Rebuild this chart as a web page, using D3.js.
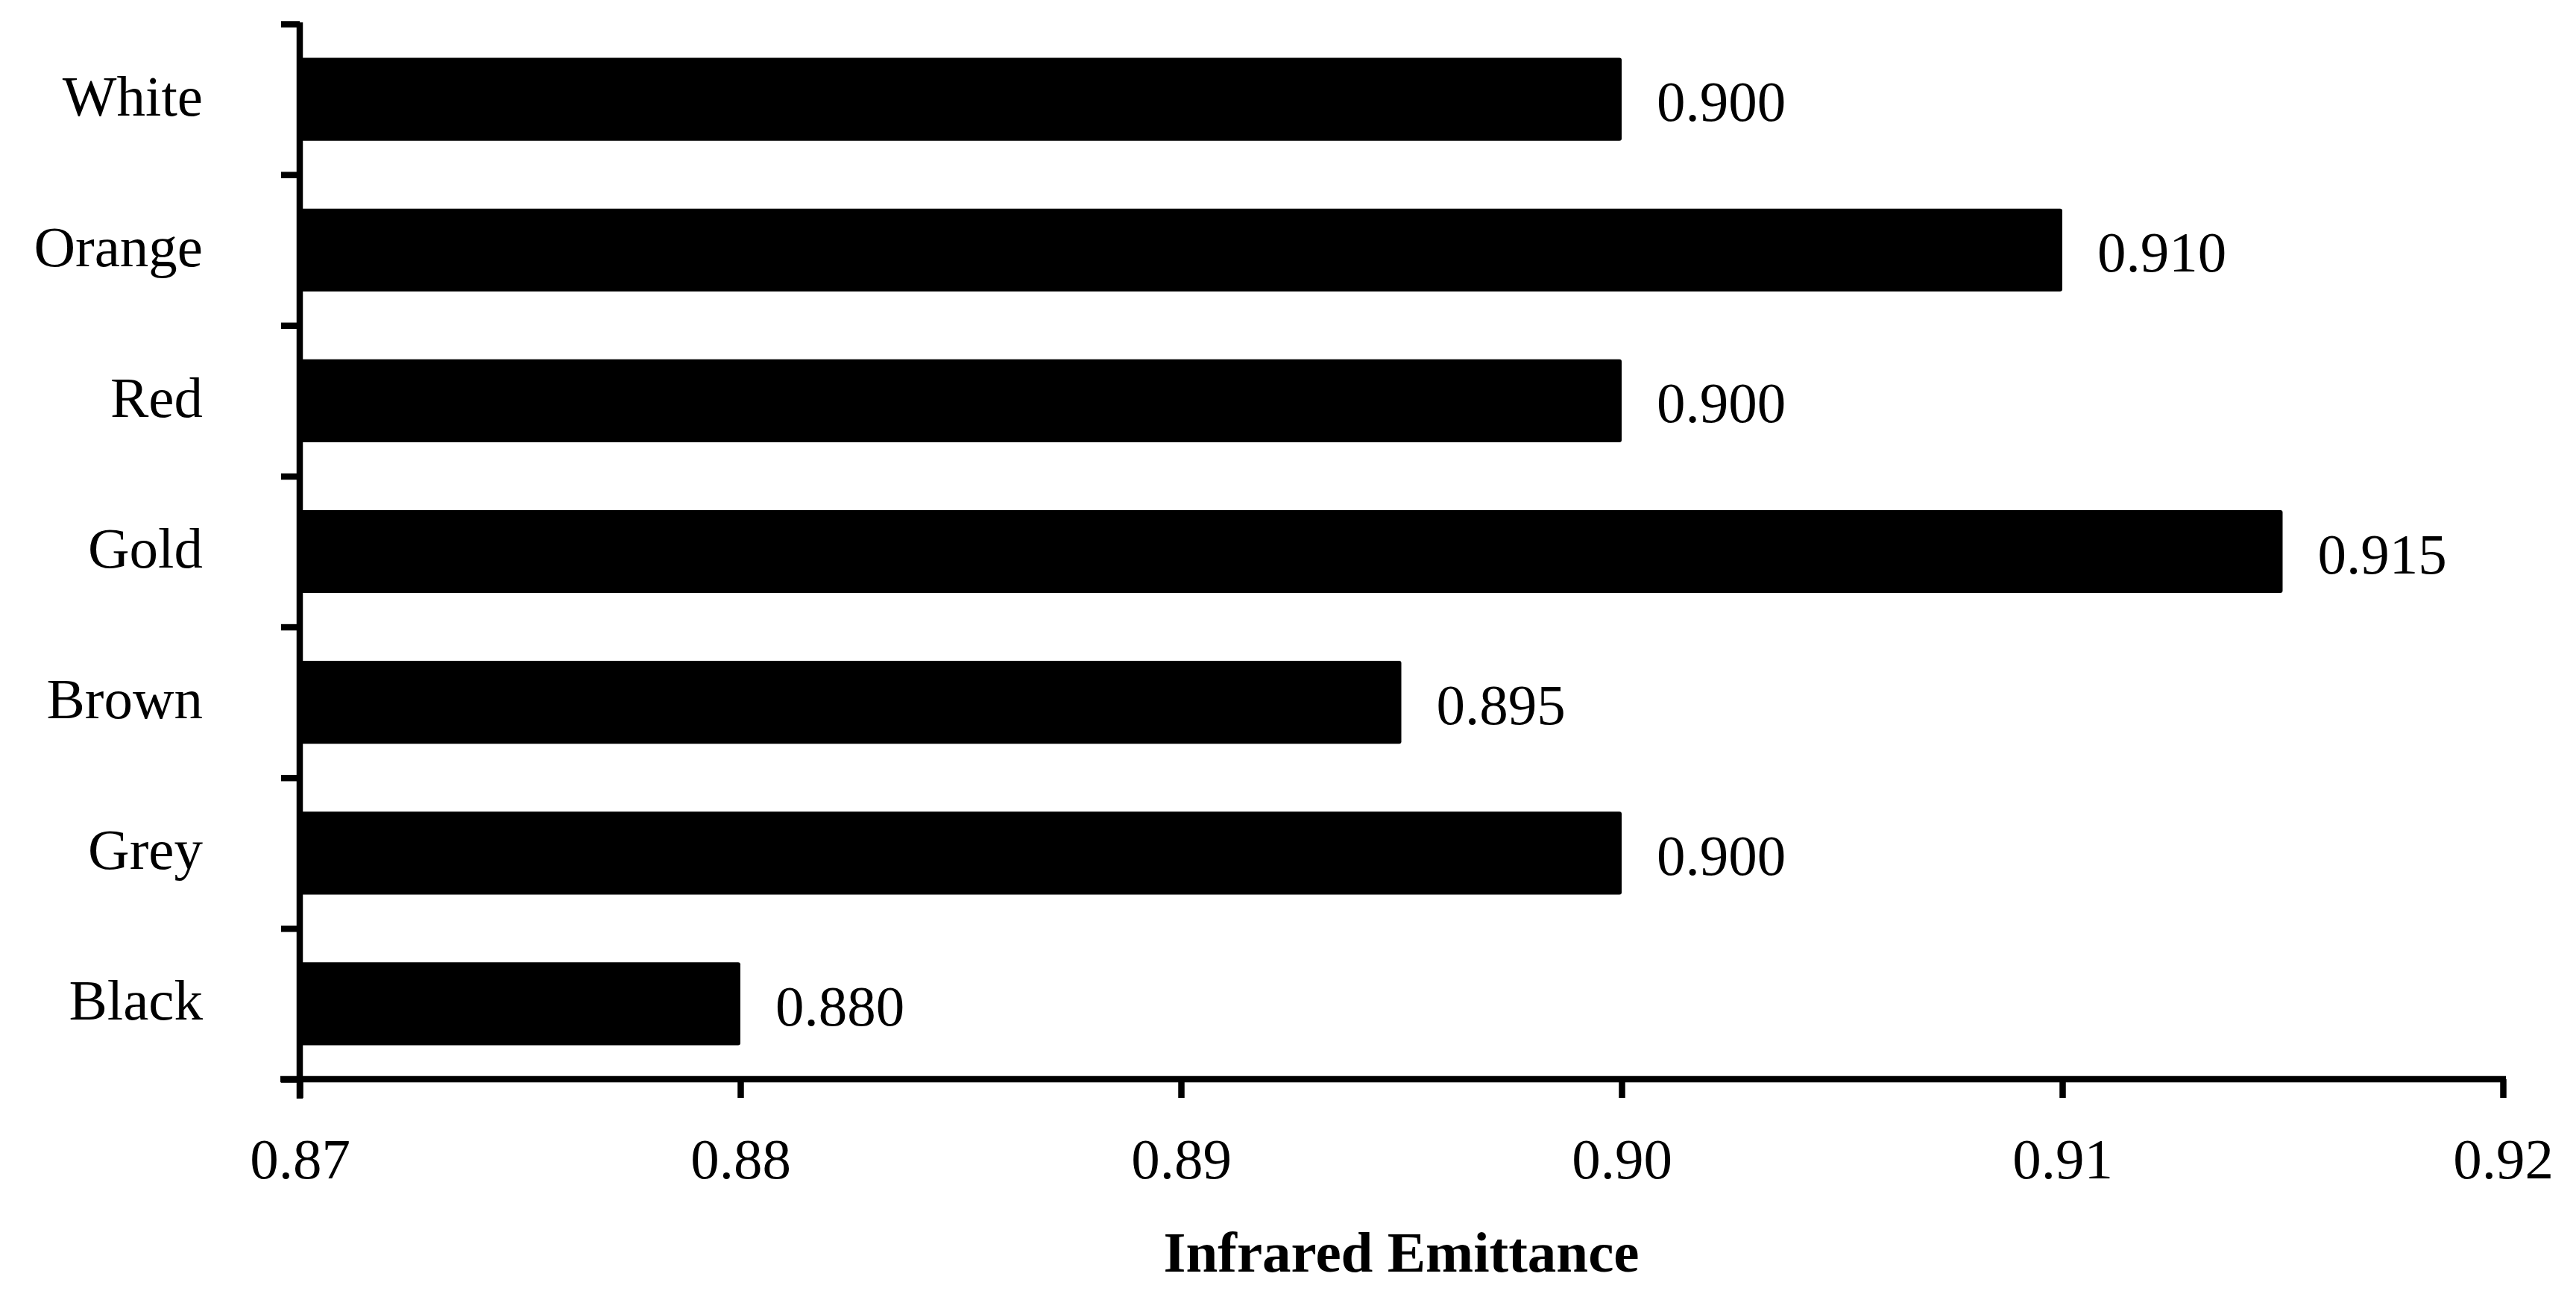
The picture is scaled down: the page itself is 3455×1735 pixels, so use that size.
<!DOCTYPE html>
<html>
<head>
<meta charset="utf-8">
<script src="https://cdn.jsdelivr.net/npm/d3@7"></script>
<style>
    body { margin: 0; background: #fff; }
    text { font-family: "Liberation Serif", "Times New Roman", serif; }
</style>
</head>
<body>
<svg></svg>
<script>
//data
var colours = ["White", "Orange", "Red", "Gold", "Brown", "Grey", "Black"]
var emittance = [0.900, 0.910, 0.900, 0.915, 0.895, 0.900, 0.880]
var xTicks = [0.87, 0.88, 0.89, 0.90, 0.91, 0.92]
var xTitle = "Infrared Emittance"

var screen = {width: 3455, height: 1735}
var margins = {top: 32, right: 98, bottom: 288, left: 402}
var fontSize = 77

var drawChart = function()
{
    var svg = d3.select("svg")
        .attr("width", screen.width)
        .attr("height", screen.height)

    var width = screen.width - margins.left - margins.right
    var height = screen.height - margins.top - margins.bottom

    var xScale = d3.scaleLinear()
                    .domain([0.87, 0.92])
                    .range([0, width])

    var yScale = d3.scaleBand()
                    .domain(colours)
                    .range([0, height])
                    .paddingInner(0.45)
                    .paddingOuter(0.225)

    //ticks sit between the categories, so use a plain index scale for them
    var yEdges = d3.scaleLinear()
                    .domain([0, colours.length])
                    .range([0, height])

    var graph = svg.append("g")
        .attr("id", "graph")
        .attr("transform", "translate(" + margins.left + "," + margins.top + ")")

    var rows = colours.map(function(c, i) { return {name: c, value: emittance[i]} })

    graph.selectAll("rect")
        .data(rows)
        .enter()
        .append("rect")
        .attr("x", xScale(0.87))
        .attr("y", function(d) { return yScale(d.name) })
        .attr("width", function(d) { return xScale(d.value) - xScale(0.87) })
        .attr("height", yScale.bandwidth())
        .attr("rx", 3)
        .attr("fill", "black")

    graph.selectAll(".value")
        .data(rows)
        .enter()
        .append("text")
        .classed("value", true)
        .attr("x", function(d) { return xScale(d.value) + 47 })
        .attr("y", function(d) { return yScale(d.name) + yScale.bandwidth() / 2 + 29 })
        .attr("font-size", fontSize)
        .attr("fill", "black")
        .text(function(d) { return d3.format(".3f")(d.value) })

    //y axis: line + boundary ticks
    var yTickAxis = d3.axisLeft(yEdges)
        .tickValues(d3.range(colours.length + 1))
        .tickFormat("")
        .tickSize(25)
        .tickSizeOuter(0)

    var yAx = graph.append("g").attr("id", "yAxis").call(yTickAxis)
    yAx.select(".domain").attr("d", "M0,-2V" + (height + 26))

    //category labels
    var yLabelAxis = d3.axisLeft(yScale).tickSize(0).tickPadding(130)
    var yLab = graph.append("g").attr("id", "yLabels").call(yLabelAxis)
    yLab.select(".domain").remove()
    yLab.selectAll("text")
        .attr("font-size", fontSize)
        .attr("font-family", null)
        .attr("dy", "0.28em")

    //x axis
    var xAxis = d3.axisBottom(xScale)
        .tickValues(xTicks)
        .tickFormat(d3.format(".2f"))
        .tickSize(25)
        .tickSizeOuter(0)

    var xAx = graph.append("g")
        .attr("id", "xAxis")
        .attr("transform", "translate(0," + height + ")")
        .call(xAxis)
    xAx.select(".domain").attr("d", "M-26,0H" + (width + 4))
    xAx.selectAll("text")
        .attr("font-size", fontSize)
        .attr("font-family", null)
        .attr("y", 133)
        .attr("dy", 0)

    svg.selectAll(".domain, .tick line")
        .attr("stroke", "black")
        .attr("stroke-width", 8.5)
    svg.selectAll(".tick text").attr("fill", "black")

    graph.append("text")
        .attr("x", width / 2)
        .attr("y", height + 258)
        .attr("text-anchor", "middle")
        .attr("font-size", fontSize)
        .attr("font-weight", "bold")
        .attr("fill", "black")
        .text(xTitle)
}

drawChart()
</script>
</body>
</html>
